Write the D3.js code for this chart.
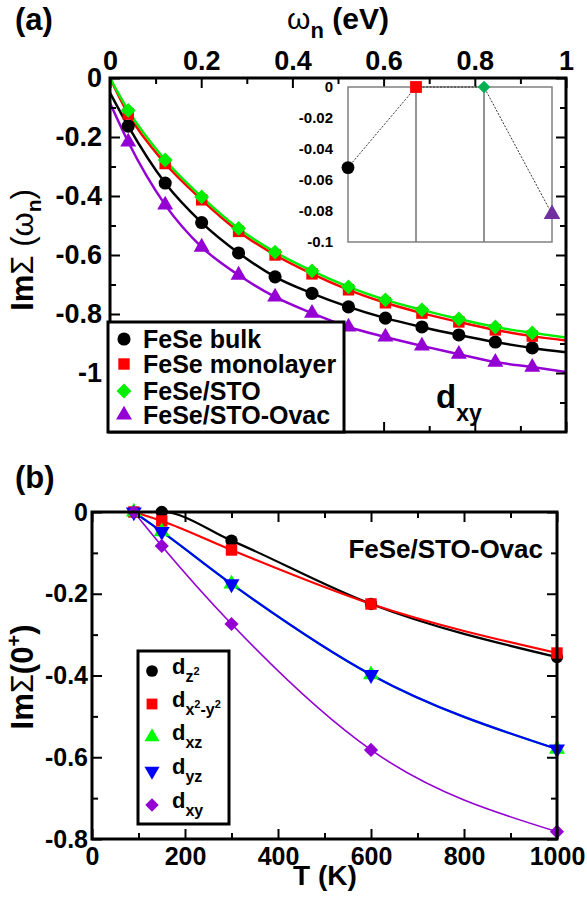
<!DOCTYPE html>
<html>
<head>
<meta charset="utf-8">
<script src="https://cdn.jsdelivr.net/npm/d3@7"></script>
<style>
  body { margin: 0; background: #fff; }
  text { font-family: "Liberation Sans", Arial, sans-serif; font-weight: bold; }
</style>
</head>
<body>
<script>
// ---- panel (a) data ----
const omega = [0.040, 0.121, 0.201, 0.282, 0.362, 0.443, 0.523, 0.604, 0.684, 0.765, 0.845, 0.926];
const seriesNames = ['FeSe bulk', 'FeSe monolayer', 'FeSe/STO', 'FeSe/STO-Ovac'];
const bulk = [-0.163, -0.356, -0.49, -0.593, -0.674, -0.73, -0.776, -0.814, -0.844, -0.871, -0.895, -0.915];
const mono = [-0.122, -0.29, -0.413, -0.52, -0.60, -0.664, -0.718, -0.762, -0.797, -0.827, -0.854, -0.875];
const sto  = [-0.11, -0.278, -0.403, -0.51, -0.59, -0.654, -0.708, -0.752, -0.786, -0.817, -0.844, -0.864];
const ovac = [-0.217, -0.43, -0.573, -0.668, -0.742, -0.797, -0.844, -0.878, -0.908, -0.936, -0.963, -0.98];
// fitted curves: value at omega = 0 and omega = 1
const fitStart = [-0.05, 0, 0, -0.085];
const fitEnd = [-0.93, -0.89, -0.88, -0.997];
const xTicksA = [0, 0.2, 0.4, 0.6, 0.8, 1];
const yTicksA = [0, -0.2, -0.4, -0.6, -0.8, -1];

// inset
const insetNames = ['bulk', 'monolayer', 'STO', 'Ovac'];
const insetValues = [-0.052, 0, 0, -0.082];
const insetTicks = [0, -0.02, -0.04, -0.06, -0.08, -0.1];

// ---- panel (b) data ----
const temps = [90, 150, 300, 600, 1000];
const dz2   = [0, 0, -0.07, -0.225, -0.355];
const dx2y2 = [0, -0.022, -0.093, -0.225, -0.345];
const dxz   = [0, -0.048, -0.176, -0.398, -0.58];
const dyz   = [0, -0.048, -0.176, -0.398, -0.58];
const dxy   = [0, -0.083, -0.274, -0.582, -0.782];
const xTicksB = [0, 200, 400, 600, 800, 1000];
const yTicksB = [0, -0.2, -0.4, -0.6, -0.8];

const fmt = d => String(+d.toFixed(2));

let svg = d3.select('body')
  .append('svg')
    .attr('width', 587)
    .attr('height', 900);

// helper to draw a marker
function marker(g, type, x, y, color, size) {
  let sym, rot = 0;
  if (type === 'circle') sym = d3.symbolCircle;
  if (type === 'square') sym = d3.symbolSquare;
  if (type === 'diamond') { sym = d3.symbolSquare; rot = 45; }
  if (type === 'up') sym = d3.symbolTriangle;
  if (type === 'down') { sym = d3.symbolTriangle; rot = 180; }
  g.append('path')
    .attr('d', d3.symbol().type(sym).size(size)())
    .attr('transform', `translate(${x},${y}) rotate(${rot})`)
    .attr('fill', color);
}

function frameAxes(g, x, y, xMajor, xMinor, yMajor, yMinor, fontSize, showTop) {
  let [x0, x1] = x.range();
  let [y1, y0] = y.range();
  let ax = [];
  // top
  ax.push(g.append('g').attr('transform', `translate(0,${y0})`)
    .call(d3.axisTop(x).tickValues(xMajor).tickSizeInner(-10).tickSizeOuter(0).tickPadding(8)
      .tickFormat(showTop ? fmt : '')));
  ax.push(g.append('g').attr('transform', `translate(0,${y0})`)
    .call(d3.axisTop(x).tickValues(xMinor).tickSize(-6).tickFormat('')));
  // bottom
  ax.push(g.append('g').attr('transform', `translate(0,${y1})`)
    .call(d3.axisBottom(x).tickValues(xMajor).tickSizeInner(-10).tickSizeOuter(0).tickPadding(8)
      .tickFormat(showTop ? '' : fmt)));
  ax.push(g.append('g').attr('transform', `translate(0,${y1})`)
    .call(d3.axisBottom(x).tickValues(xMinor).tickSize(-6).tickFormat('')));
  // left
  ax.push(g.append('g').attr('transform', `translate(${x0},0)`)
    .call(d3.axisLeft(y).tickValues(yMajor).tickSizeInner(-10).tickSizeOuter(0).tickPadding(showTop ? 8 : 4).tickFormat(fmt)));
  ax.push(g.append('g').attr('transform', `translate(${x0},0)`)
    .call(d3.axisLeft(y).tickValues(yMinor).tickSize(-6).tickFormat('')));
  // right
  ax.push(g.append('g').attr('transform', `translate(${x1},0)`)
    .call(d3.axisRight(y).tickValues(yMajor).tickSizeInner(-10).tickSizeOuter(0).tickFormat('')));
  ax.push(g.append('g').attr('transform', `translate(${x1},0)`)
    .call(d3.axisRight(y).tickValues(yMinor).tickSize(-6).tickFormat('')));
  ax.forEach(a => {
    a.select('.domain').remove();
    a.selectAll('line').attr('stroke', '#000').attr('stroke-width', 2);
    a.selectAll('text').filter(function() { return this.textContent === ''; }).remove();
    a.selectAll('text').attr('fill', '#000').style('font-size', fontSize + 'px')
      .style('font-family', '"Liberation Sans", Arial, sans-serif').style('font-weight', 'bold');
  });
  g.append('rect')
    .attr('x', x0).attr('y', y0).attr('width', x1 - x0).attr('height', y1 - y0)
    .attr('fill', 'none').attr('stroke', '#000').attr('stroke-width', 3);
}

// =================== panel (a) ===================
let xA = d3.scaleLinear().domain([0, 1]).range([110, 566]);
let yA = d3.scaleLinear().domain([-1.2, 0]).range([432, 78]);
let gA = svg.append('g');

svg.append('defs').append('clipPath').attr('id', 'clipA')
  .append('rect').attr('x', 110).attr('y', 78).attr('width', 456).attr('height', 354);

const colorsA = ['#000000', '#ff0000', '#00ee00', '#9400d3'];
const shapesA = ['circle', 'square', 'diamond', 'up'];
const sizesA = [135, 130, 110, 110];
const valsA = [bulk, mono, sto, ovac];

let lineA = d3.line()
  .x(d => xA(d[0]))
  .y(d => yA(d[1]))
  .curve(d3.curveMonotoneX);

let curvesG = gA.append('g').attr('clip-path', 'url(#clipA)');
valsA.forEach((vals, i) => {
  let pts = [[0, fitStart[i]]].concat(omega.map((w, j) => [w, vals[j]])).concat([[1, fitEnd[i]]]);
  curvesG.append('path')
    .attr('d', lineA(pts))
    .attr('fill', 'none')
    .attr('stroke', colorsA[i])
    .attr('stroke-width', 2.5);
});
valsA.forEach((vals, i) => {
  omega.forEach((w, j) => marker(gA, shapesA[i], xA(w), yA(vals[j]), colorsA[i], sizesA[i]));
});

frameAxes(gA, xA, yA, xTicksA, [0.1, 0.3, 0.5, 0.7, 0.9],
  yTicksA, [-0.1, -0.3, -0.5, -0.7, -0.9, -1.1], 27, true);

// inset
let xI = d3.scalePoint().domain(insetNames).range([348, 552]);
let yI = d3.scaleLinear().domain([-0.1, 0]).range([242, 87]);
let gI = gA.append('g');
gI.append('rect').attr('x', 348).attr('y', 87).attr('width', 204).attr('height', 155)
  .attr('fill', '#fff').attr('stroke', '#808080').attr('stroke-width', 1.5);
insetNames.slice(1, 3).forEach(n => {
  gI.append('line').attr('x1', xI(n)).attr('x2', xI(n)).attr('y1', 87).attr('y2', 242)
    .attr('stroke', '#707070').attr('stroke-width', 1.5);
});
let yIaxis = gI.append('g').attr('transform', 'translate(348,0)')
  .call(d3.axisLeft(yI).tickValues(insetTicks).tickSize(0).tickPadding(15).tickFormat(fmt));
yIaxis.select('.domain').remove();
yIaxis.selectAll('text').attr('fill', '#000').style('font-size', '15px');
gI.append('path')
  .attr('d', d3.line().x((d, i) => xI(insetNames[i])).y(d => yI(d))(insetValues))
  .attr('fill', 'none').attr('stroke', '#000').attr('stroke-width', 0.8).attr('stroke-dasharray', '2,1.5');
const insetColors = ['#000000', '#ff0000', '#00b050', '#7030a0'];
const insetSizes = [130, 140, 80, 120];
insetNames.forEach((n, i) => marker(gI, shapesA[i], xI(n), yI(insetValues[i]), insetColors[i], insetSizes[i]));

// legend (a)
let legA = gA.append('g');
legA.append('rect').attr('x', 108).attr('y', 322).attr('width', 236).attr('height', 110)
  .attr('fill', '#fff').attr('stroke', '#000').attr('stroke-width', 3);
const legAy = [339, 364, 391, 415];
seriesNames.forEach((s, i) => {
  marker(legA, shapesA[i], 124, legAy[i], colorsA[i], sizesA[i]);
  legA.append('text').attr('x', 143).attr('y', legAy[i]).attr('dy', '0.36em')
    .style('font-size', '25px').text(s);
});

// d_xy label
let dlab = gA.append('text').attr('x', 436).attr('y', 408).style('font-size', '33px');
dlab.append('tspan').text('d');
dlab.append('tspan').attr('dy', 13).style('font-size', '23px').text('xy');

// axis titles (a)
gA.append('text').attr('x', 15).attr('y', 30).style('font-size', '31px').text('(a)');
let ttl = gA.append('text').attr('x', 338).attr('y', 29).attr('text-anchor', 'middle').style('font-size', '30px');
ttl.append('tspan').style('font-weight', 'normal').text('ω');
ttl.append('tspan').attr('dy', 9).style('font-size', '22px').text('n');
ttl.append('tspan').attr('dy', -9).text(' (eV)');

let ylabA = gA.append('text').attr('transform', 'translate(33,250) rotate(-90)')
  .attr('text-anchor', 'middle').style('font-size', '31px');
ylabA.append('tspan').text('Im');
ylabA.append('tspan').style('font-weight', 'normal').text('Σ (ω');
ylabA.append('tspan').attr('dy', 8).style('font-size', '21px').text('n');
ylabA.append('tspan').attr('dy', -8).style('font-weight', 'normal').text(')');

// =================== panel (b) ===================
let xB = d3.scaleLinear().domain([0, 1000]).range([92, 557]);
let yB = d3.scaleLinear().domain([-0.8, 0]).range([839, 512]);
let gB = svg.append('g');

const colorsB = ['#000000', '#ff0000', '#00ff00', '#0000ff', '#9400d3'];
const shapesB = ['circle', 'square', 'up', 'down', 'diamond'];
const sizesB = [120, 130, 110, 110, 100];
const valsB = [dz2, dx2y2, dxz, dyz, dxy];
const widthsB = [2.2, 2.2, 2.2, 2.2, 1.6];

let lineB = d3.line()
  .x((d, i) => xB(temps[i]))
  .y(d => yB(d))
  .curve(d3.curveMonotoneX);

valsB.forEach((vals, i) => {
  gB.append('path').attr('d', lineB(vals))
    .attr('fill', 'none').attr('stroke', colorsB[i]).attr('stroke-width', widthsB[i]);
});
valsB.forEach((vals, i) => {
  temps.forEach((t, j) => marker(gB, shapesB[i], xB(t), yB(vals[j]), colorsB[i], sizesB[i]));
});

frameAxes(gB, xB, yB, xTicksB, [100, 300, 500, 700, 900],
  yTicksB, [-0.1, -0.3, -0.5, -0.7], 25, false);

// legend (b)
let legB = gB.append('g');
legB.append('rect').attr('x', 138).attr('y', 651).attr('width', 91).attr('height', 173)
  .attr('fill', '#fff').attr('stroke', '#000').attr('stroke-width', 3);
const legBy = [671, 704, 737, 771, 805];
// label parts: [text, kind] kind: n normal, b sub, p super
const legBLabels = [
  [['d', 'n'], ['z', 'b'], ['2', 'p']],
  [['d', 'n'], ['x', 'b'], ['2', 'p'], ['-y', 'b'], ['2', 'p']],
  [['d', 'n'], ['xz', 'b']],
  [['d', 'n'], ['yz', 'b']],
  [['d', 'n'], ['xy', 'b']]
];
legBLabels.forEach((parts, i) => {
  marker(legB, shapesB[i], 152, legBy[i], colorsB[i], sizesB[i] * 0.9);
  let t = legB.append('text').attr('x', 172).attr('y', legBy[i] + 3).style('font-size', '22px');
  let level = 0;
  parts.forEach(p => {
    let target = p[1] === 'n' ? 0 : p[1] === 'b' ? 8 : 1;
    t.append('tspan').attr('dy', target - level)
      .style('font-size', p[1] === 'n' ? '22px' : p[1] === 'b' ? '16px' : '11px')
      .text(p[0]);
    level = target;
  });
});

gB.append('text').attr('x', 543).attr('y', 558).attr('text-anchor', 'end')
  .style('font-size', '26px').text('FeSe/STO-Ovac');

gB.append('text').attr('x', 15).attr('y', 488).style('font-size', '31px').text('(b)');
gB.append('text').attr('x', 325).attr('y', 885).attr('text-anchor', 'middle')
  .style('font-size', '28px').text('T (K)');

let ylabB = gB.append('text').attr('transform', 'translate(33,677) rotate(-90)')
  .attr('text-anchor', 'middle').style('font-size', '31px');
ylabB.append('tspan').text('Im');
ylabB.append('tspan').style('font-weight', 'normal').text('Σ');
ylabB.append('tspan').text('(0');
ylabB.append('tspan').attr('dy', -12).style('font-size', '20px').text('+');
ylabB.append('tspan').attr('dy', 12).text(')');
</script>
</body>
</html>
